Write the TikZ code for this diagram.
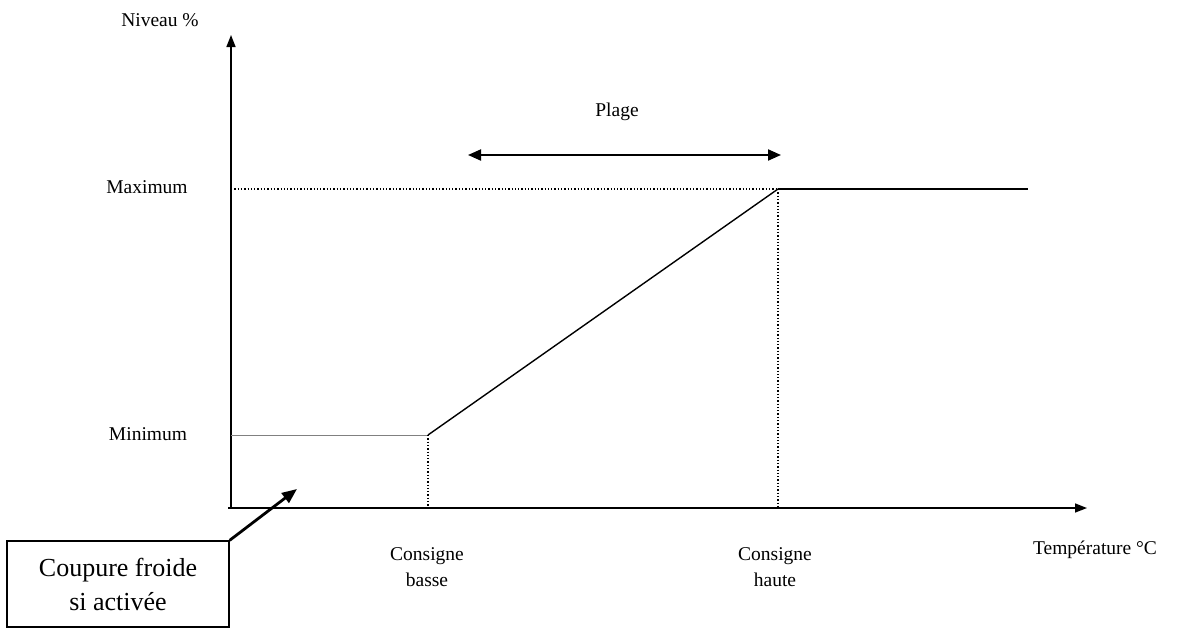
\documentclass[tikz,border=0pt]{standalone}
\usepackage{fontspec}
\setmainfont{Liberation Serif}
\usetikzlibrary{arrows.meta}
\begin{document}
\begin{tikzpicture}[x=1pt,y=-1pt,
  lbl/.style={font=\fontsize{19.5}{26}\selectfont, align=center},
  ax/.style={line width=1.6pt,-{Triangle[length=12pt,width=9pt]}},
  dot/.style={line width=1.3pt,dotted}]
\useasboundingbox (0,0) rectangle (1179,629);
\coordinate (O) at (231,508);
\coordinate (Ytip) at (231,35);
\coordinate (Xtip) at (1087,508);
\coordinate (Ymax) at (231,189);
\coordinate (Ymin) at (231,435);
\coordinate (A) at (428,435);
\coordinate (B) at (778,189);
\coordinate (Bend) at (1028,189);
\coordinate (Abase) at (428,508);
\coordinate (Bbase) at (778,508);
\coordinate (P1) at (468,155);
\coordinate (P2) at (781,155);
\coordinate (Cut) at (297,489);
\draw[ax] (231,508) -- (Ytip);
\draw[ax] (228,508) -- (Xtip);
\draw[dot] (Ymax) -- (B);
\draw[line width=1.2pt] (B) -- (Bend);
\draw[line width=0.9pt, gray] (Ymin) -- (A);
\draw[dot] (A) -- (Abase);
\draw[dot] (B) -- (Bbase);
\draw[line width=1.4pt] (A) -- (B);
\draw[line width=2pt,{Triangle[length=13pt,width=11pt]}-{Triangle[length=13pt,width=11pt]}] (P1) -- (P2);
\node[lbl] (niv) at (160,20) {Niveau \%};
\node[lbl] (max) at (147,187) {Maximum};
\node[lbl] (min) at (148,434) {Minimum};
\node[lbl] (plage) at (617,112) {Plage};
\node[lbl] (cb) at (427,567) {Consigne\\basse};
\node[lbl] (ch) at (775,567) {Consigne\\haute};
\node[lbl] (temp) at (1095,550) {Température °C};
\node[draw, line width=1.4pt, minimum width=222pt, minimum height=86pt, font=\fontsize{26}{34}\selectfont, align=center] (box) at (118,584) {Coupure froide\\si activée};
\draw[line width=2.8pt,-{Triangle[length=15pt,width=12pt]}] (box.north east) -- (Cut);
\end{tikzpicture}
\end{document}
